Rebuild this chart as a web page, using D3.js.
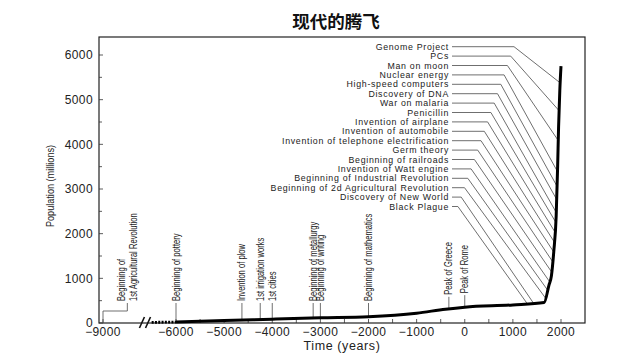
<!DOCTYPE html>
<html><head><meta charset="utf-8">
<script src="https://cdn.jsdelivr.net/npm/d3@7"></script>
<style>body{margin:0;background:#fff}svg{display:block}</style>
</head><body><svg id="c" width="640" height="360"></svg>
<script>
const chartTitle = "现代的腾飞";
const xAxisTitle = "Time (years)";
const yAxisTitle = "Population (millions)";

// population curve (years, millions)
const years      = [-6000, -5000, -4000, -3000, -2000, -1000, -400, 0, 1000, 1650, 1750, 1800, 1850, 1900, 1930, 1950, 1975, 2000];
const population = [20, 55, 85, 115, 140, 220, 310, 355, 405, 460, 850, 1050, 1600, 2400, 3500, 4400, 5200, 5750];
// dotted part across the axis break
const preYears = [-7000, -6000];
const prePopulation = [15, 20];
const breakYears = [-7400, -7150];

const xTickLabels = [-9000, -6000, -5000, -4000, -3000, -2000, -1000, 0, 1000, 2000];
const xMinorTicks = d3.range(-6000, 2001, 500).concat([-9000]);
const yTickLabels = [0, 1000, 2000, 3000, 4000, 5000, 6000];
const yMinorTicks = d3.range(0, 6001, 500);

// right-hand events (top to bottom) and the year where their leader meets the curve
const rightEvents = ["Genome Project", "PCs", "Man on moon", "Nuclear energy", "High-speed computers",
  "Discovery of DNA", "War on malaria", "Penicillin", "Invention of airplane", "Invention of automobile",
  "Invention of telephone electrification", "Germ theory", "Beginning of railroads", "Invention of Watt engine",
  "Beginning of Industrial Revolution", "Beginning of 2d Agricultural Revolution", "Discovery of New World", "Black Plague"];
const rightEventYears = [1983, 1961, 1943, 1927, 1918, 1910, 1902, 1891, 1877, 1863, 1849, 1829, 1808, 1767, 1721, 1676, 1430, 1300];

// bottom events
const bottomEvents = ["Beginning of\n1st Agricultural Revolution", "Beginning of pottery", "Invention of plow",
  "1st irrigation works", "1st cities", "Beginning of metallurgy", "Beginning of writing",
  "Beginning of mathematics", "Peak of Greece", "Peak of Rome"];
const bottomEventYears = [-9000, -6000, -4630, -4250, -4000, -3150, -3000, -2000, -330, 0];
const bottomLabelYears = [-8000, -6000, -4630, -4250, -4000, -3150, -3000, -2000, -330, 0];

const svg = d3.select("#c");
const font = "'Liberation Sans', Arial, Helvetica, sans-serif";
const L = 99, R = 585, T = 37, B = 323;

const x = d3.scaleLinear().domain([-9000, -6000, 2000]).range([103, 176, 561]);
const y = d3.scaleLinear().domain([0, 6000]).range([B, 55]);
const popAt = d3.scaleLinear().domain(years).range(population);

// title
svg.append("text").attr("x", 336).attr("y", 28).attr("text-anchor", "middle")
  .attr("font-family", "'Noto Sans CJK SC', sans-serif").attr("font-weight", 700)
  .attr("font-size", 17.5).attr("fill", "#111").text(chartTitle);

// frame
svg.append("rect").attr("x", L).attr("y", T).attr("width", R - L).attr("height", B - T)
  .attr("fill", "none").attr("stroke", "#222").attr("stroke-width", 1.2);

// y ticks
svg.append("g").selectAll("line").data(yMinorTicks).join("line")
  .attr("x1", L).attr("x2", d => L + (d % 1000 === 0 ? 4 : 3))
  .attr("y1", d => y(d)).attr("y2", d => y(d)).attr("stroke", "#333").attr("stroke-width", 0.8);
svg.append("g").selectAll("text").data(yTickLabels).join("text")
  .attr("x", 93).attr("y", d => y(d)).attr("dy", "0.36em").attr("text-anchor", "end")
  .attr("font-family", font).attr("font-size", 12).attr("letter-spacing", 0.4).attr("fill", "#222")
  .text(d => d);

// x ticks
svg.append("g").selectAll("line").data(xMinorTicks).join("line")
  .attr("x1", d => x(d)).attr("x2", d => x(d)).attr("y1", B).attr("y2", B - 4)
  .attr("stroke", "#333").attr("stroke-width", 0.8);
svg.append("g").selectAll("text").data(xTickLabels).join("text")
  .attr("x", d => x(d)).attr("y", 336).attr("text-anchor", "middle")
  .attr("font-family", font).attr("font-size", 12).attr("letter-spacing", 0.4).attr("fill", "#222")
  .text(d => d < 0 ? "−" + Math.abs(d) : d);

// axis titles
svg.append("text").attr("x", 342).attr("y", 350).attr("text-anchor", "middle")
  .attr("font-family", font).attr("font-size", 12.5).attr("letter-spacing", 0.6).attr("fill", "#222")
  .text(xAxisTitle);
svg.append("text").attr("transform", "translate(54,186) rotate(-90) scale(0.87,1)")
  .attr("text-anchor", "middle").attr("font-family", font).attr("font-size", 10.5).attr("fill", "#222")
  .text(yAxisTitle);

// axis break
svg.append("g").selectAll("line").data(breakYears).join("line")
  .attr("x1", d => x(d) - 2.5).attr("x2", d => x(d) + 2.5).attr("y1", B + 5).attr("y2", B - 6)
  .attr("stroke", "#111").attr("stroke-width", 1.6);

// right event leaders and labels
const rg = svg.append("g");
rightEvents.forEach((name, i) => {
  const ly = 46.7 + i * 9.4;
  const cx = 514 - 3.3 * i;
  const yr = rightEventYears[i];
  rg.append("path").attr("d", `M452,${ly}H${cx}L${x(yr)},${y(popAt(yr))}`)
    .attr("fill", "none").attr("stroke", "#555").attr("stroke-width", 0.85);
  rg.append("text").attr("x", 449).attr("y", ly).attr("dy", "0.35em").attr("text-anchor", "end")
    .attr("font-family", font).attr("font-size", 8.8).attr("letter-spacing", 0.7).attr("fill", "#222")
    .text(name);
});

// bottom event leaders and labels
const bg = svg.append("g");
bottomEvents.forEach((name, i) => {
  const yr = bottomEventYears[i];
  const lx = x(bottomLabelYears[i]);
  const cy = yr < -6000 ? B : y(popAt(yr));
  const bottom = Math.min(301, cy - 14);
  if (yr < -6000) {
    bg.append("path").attr("d", `M${lx},${bottom + 2}V311H${x(yr)}V${B}`)
      .attr("fill", "none").attr("stroke", "#555").attr("stroke-width", 0.85);
  } else {
    bg.append("path").attr("d", `M${lx},${bottom + 2}V${cy}`)
      .attr("fill", "none").attr("stroke", "#555").attr("stroke-width", 0.85);
  }
  const lines = name.split("\n");
  const t = bg.append("text").attr("transform", `translate(${lx},${bottom}) rotate(-90) scale(0.76,1)`)
    .attr("font-family", font).attr("font-size", 10).attr("fill", "#222");
  lines.forEach((ln, j) => {
    const off = (j - (lines.length - 1) / 2) * 12;
    t.append("tspan").attr("x", 0).attr("y", off).attr("dy", "0.35em").text(ln);
  });
});

// population curve
svg.append("path").datum(preYears.map((d, i) => [d, prePopulation[i]]))
  .attr("d", d3.line().x(d => x(d[0])).y(d => y(d[1])))
  .attr("fill", "none").attr("stroke", "#000").attr("stroke-width", 2.8).attr("stroke-dasharray", "2,1.3");
svg.append("path").datum(years.map((d, i) => [d, population[i]]))
  .attr("d", d3.line().x(d => x(d[0])).y(d => y(d[1])).curve(d3.curveMonotoneX))
  .attr("fill", "none").attr("stroke", "#000").attr("stroke-width", 3).attr("stroke-linejoin", "round");
</script></body></html>
